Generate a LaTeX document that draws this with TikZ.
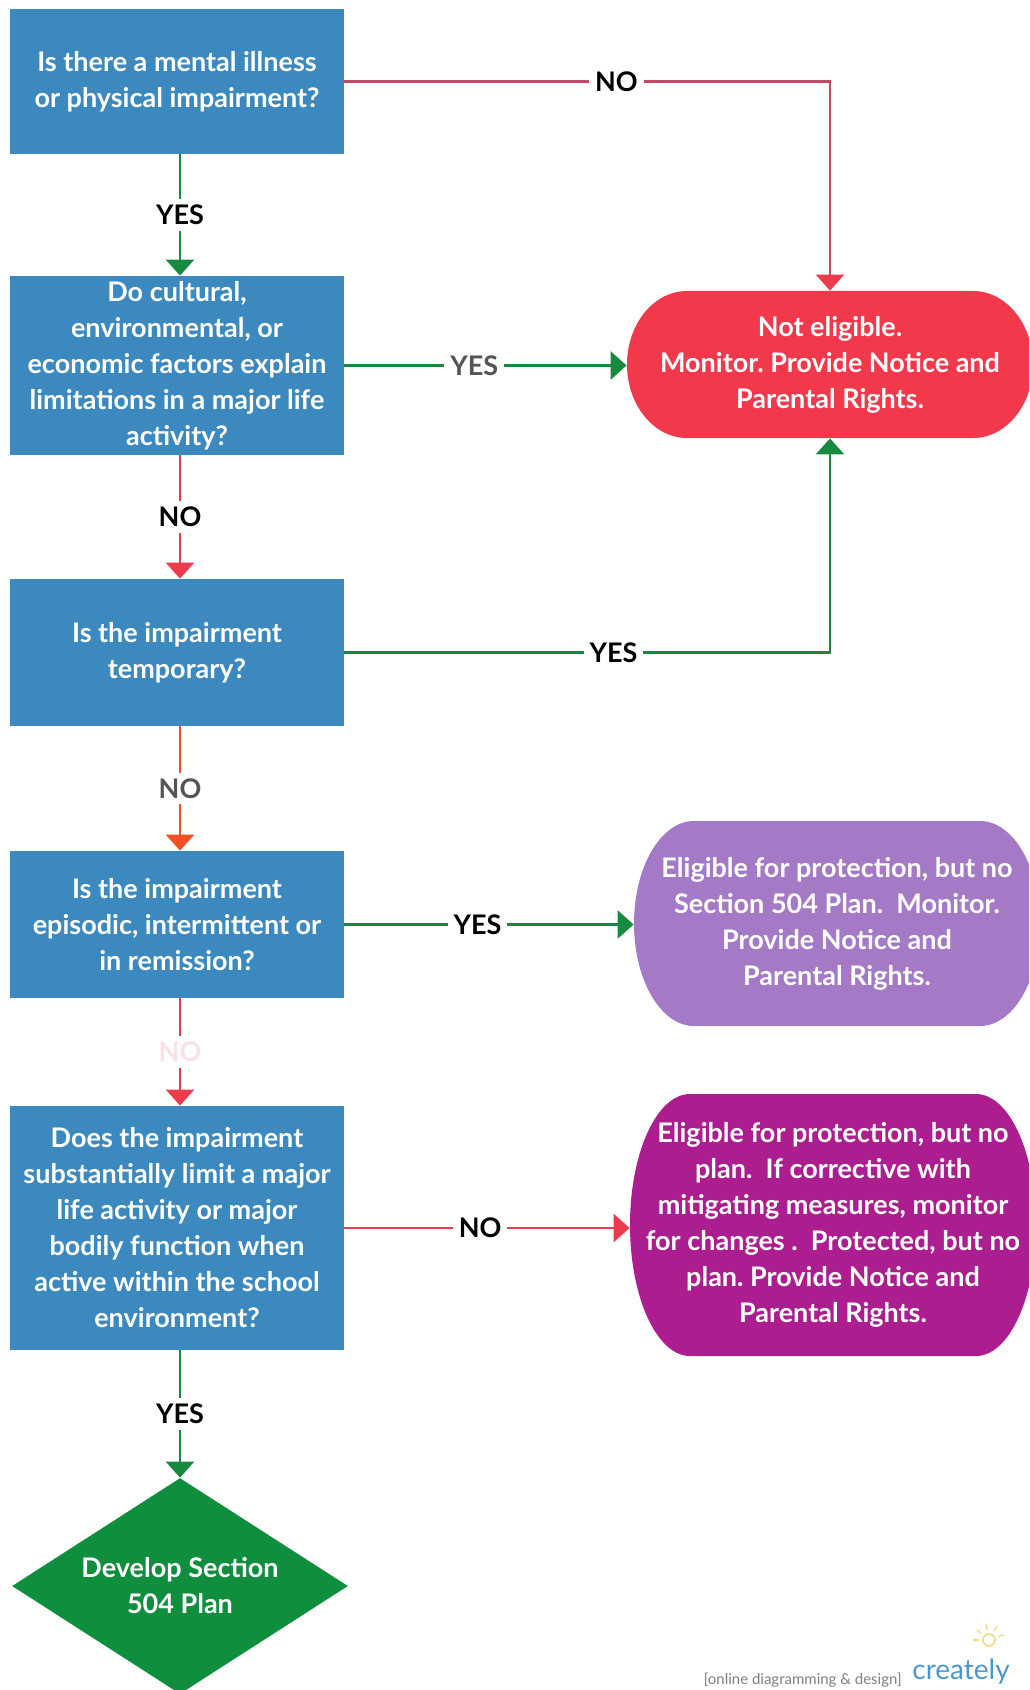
\documentclass[tikz,border=0pt]{standalone}
\usepackage{fontspec}
\setmainfont{Lato}
\usetikzlibrary{arrows.meta,shapes.geometric,calc}
\definecolor{boxblue}{HTML}{3C89BF}
\definecolor{nred}{HTML}{F2384B}
\definecolor{npurple}{HTML}{A47AC7}
\definecolor{nmagenta}{HTML}{AC1E90}
\definecolor{dgreen}{HTML}{0F8E3D}
\definecolor{cgreen}{HTML}{178A3F}
\definecolor{cred}{HTML}{EE3B4B}
\definecolor{cmauve}{HTML}{C44A63}
\definecolor{corange}{HTML}{F25022}
\definecolor{labgray}{HTML}{555555}
\definecolor{faintpink}{HTML}{FBE1E5}
\definecolor{cblue}{HTML}{4A97D3}
\definecolor{bulb}{HTML}{F6D77A}
\newcommand{\boxfont}{\fontsize{13.5}{18}\selectfont\bfseries}
\frenchspacing
\tikzset{
  qbox/.style={fill=boxblue, text=white, minimum width=167pt, align=center, inner sep=0pt, font=\boxfont},
  lab/.style={fill=white, inner sep=3pt, text=black, font=\boxfont},
  conn/.style={line width=1.3pt, -{Triangle[length=8pt,width=14pt]}},
  endshape/.style n args={2}{minimum width=203pt, minimum height=#2, inner sep=0pt,
    align=center, text=white, font=\boxfont, fill=white,
    path picture={
      \fill[#1] ([xshift=30pt]path picture bounding box.north west)
        -- ([xshift=-30pt]path picture bounding box.north east)
        arc[start angle=90,end angle=-90,x radius=30pt,y radius=0.5*#2]
        -- ([xshift=30pt]path picture bounding box.south west)
        arc[start angle=270,end angle=90,x radius=30pt,y radius=0.5*#2]
        -- cycle;
    }},
}
\begin{document}
\begin{tikzpicture}[x=0.5pt,y=-0.5pt]
\useasboundingbox (0,0) rectangle (1029,1690);
\clip (0,0) rectangle (1029,1690);
% question boxes
\node[qbox, minimum height=72.5pt] (b1) at (177,81.5) {Is there a mental illness\\or physical impairment?};
\node[qbox, minimum height=89.5pt] (b2) at (177,365.5) {Do cultural,\\environmental, or\\economic factors explain\\limitations in a major life\\activity?};
\node[qbox, minimum height=73.5pt] (b3) at (177,652.5) {Is the impairment\\temporary?};
\node[qbox, minimum height=73.5pt] (b4) at (177,924.5) {Is the impairment\\episodic, intermittent or\\in remission?};
\node[qbox, minimum height=122pt] (b5) at (177,1228) {Does the impairment\\substantially limit a major\\life activity or major\\bodily function when\\active within the school\\environment?};
% outcomes
\node[endshape={nred}{73.5pt}] (ne) at (830,364.5) {Not eligible.\\Monitor. Provide Notice and\\Parental Rights.};
\node[endshape={npurple}{102.5pt}] (el) at (837,923.5) {Eligible for protection, but no\\Section 504 Plan.\ \ Monitor.\\Provide Notice and\\Parental Rights.};
\node[endshape={nmagenta}{131pt}] (ep) at (833,1225) {Eligible for protection, but no\\plan.\ \ If corrective with\\mitigating measures, monitor\\for changes .\ \ Protected, but no\\plan. Provide Notice and\\Parental Rights.};
\node[diamond, aspect=1.556, fill=dgreen, text=white, font=\boxfont, align=center, inner sep=0pt, minimum width=168pt, minimum height=108pt] (dev) at (180,1586) {Develop Section\\504 Plan};
% connectors
\draw[conn, cmauve, -{Triangle[length=8pt,width=14pt,color=cred]}] (b1.east) -| node[lab, pos=0.28]{NO} (ne.north);
\draw[conn, cgreen] ([xshift=1.5pt]b1.south) -- node[lab]{YES} ([xshift=1.5pt]b2.north);
\draw[conn, cgreen] (b2.east) -- node[lab, text=labgray, pos=0.46]{YES} (b2.east -| ne.west);
\draw[conn, cred] ([xshift=1.5pt]b2.south) -- node[lab]{NO} ([xshift=1.5pt]b3.north);
\draw[conn, cgreen] (b3.east) -| node[lab, pos=0.277]{YES} (ne.south);
\draw[conn, corange] ([xshift=1.5pt]b3.south) -- node[lab, text=labgray]{NO} ([xshift=1.5pt]b4.north);
\draw[conn, cgreen] (b4.east) -- node[lab, pos=0.46]{YES} (b4.east -| el.west);
\draw[conn, cred] ([xshift=1.5pt]b4.south) -- node[lab, text=faintpink]{NO} ([xshift=1.5pt]b5.north);
\draw[conn, cred] (b5.east) -- node[lab, pos=0.476]{NO} (b5.east -| ep.west);
\draw[conn, cgreen] ([xshift=1.5pt]b5.south) -- node[lab]{YES} (dev.north);
% watermark
\node[font=\fontsize{7.5}{8}\selectfont, text=gray, anchor=base east, inner sep=0pt] (wm1) at (902,1684) {[online diagramming \& design]};
\node[font=\fontsize{14}{15}\selectfont, text=cblue, anchor=base west, inner sep=0pt] (wm2) at (912,1679) {creately};
\coordinate (bc) at (989,1640);
\draw[bulb, line width=0.8pt] (bc) circle[radius=3pt];
\foreach \a in {20,60,100,140,180} {\draw[bulb, line width=0.6pt] ($(bc)+(\a:5pt)$) -- ($(bc)+(\a:8pt)$);}
\end{tikzpicture}
\end{document}
